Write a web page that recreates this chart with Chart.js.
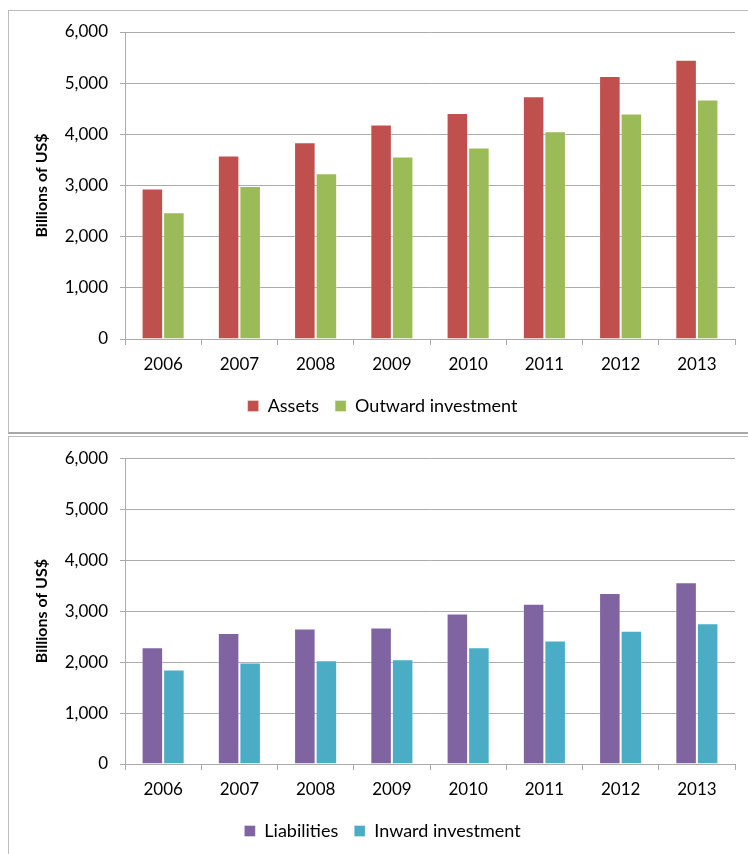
<!DOCTYPE html>
<html>
<head>
<meta charset="utf-8">
<script src="https://cdn.jsdelivr.net/npm/chart.js@4/dist/chart.umd.min.js"></script>
<style>
    html, body { margin: 0; padding: 0; background: #fff; }
    body { width: 748px; height: 854px; position: relative; overflow: hidden; }
    .frame { position: absolute; left: 8px; width: 760px; border: 1px solid #bcbcbc; box-sizing: border-box; }
    #frameTop { top: 10px; height: 424px; border-bottom: 2px solid #a8a8a8; }
    #frameBottom { top: 436px; height: 440px; }
    canvas { position: absolute; left: 0; }
    #topChart { top: 0; }
    #bottomChart { top: 436px; }
</style>
</head>
<body>
<div class="frame" id="frameTop"></div>
<div class="frame" id="frameBottom"></div>
<canvas id="topChart" width="748" height="433"></canvas>
<canvas id="bottomChart" width="748" height="418"></canvas>
<script>
    'use strict';

    // --- data ---
    const years = ['2006', '2007', '2008', '2009', '2010', '2011', '2012', '2013'];
    const assets = [2940, 3585, 3845, 4190, 4415, 4745, 5140, 5460];
    const outward = [2475, 2990, 3240, 3565, 3745, 4060, 4405, 4680];
    const liabilities = [2290, 2570, 2660, 2680, 2955, 3145, 3355, 3565];
    const inward = [1855, 1990, 2035, 2055, 2290, 2425, 2615, 2760];
    const yTicks = [0, 1000, 2000, 3000, 4000, 5000, 6000];
    const yTitle = 'Billions of US$';

    const FONT = 'Lato, "Open Sans", sans-serif';
    const GRID = '#ababab';

    function barSet(label, data, color) {
        return {
            label: label,
            data: data,
            backgroundColor: color,
            borderColor: 'rgba(255,255,255,0.35)',
            borderWidth: 1,
            categoryPercentage: 0.565,
            barPercentage: 1
        };
    }

    // left padding 30 + y-axis width 95 puts the plot edge at x = 125
    function options(padTop, padBottom) {
        return {
            responsive: false,
            animation: false,
            layout: { padding: { top: padTop, right: 13, bottom: padBottom, left: 30 } },
            plugins: {
                tooltip: { enabled: false },
                legend: {
                    position: 'bottom',
                    labels: {
                        color: '#000',
                        font: { family: FONT, size: 18 },
                        boxWidth: 11,
                        boxHeight: 11,
                        padding: 16
                    }
                }
            },
            scales: {
                x: {
                    grid: { display: true, drawOnChartArea: false, drawTicks: true, tickLength: 6, color: GRID, offset: true },
                    border: { display: true, color: GRID, width: 1 },
                    ticks: { color: '#000', font: { family: FONT, size: 17 }, padding: 9, maxRotation: 0 },
                    afterFit: function (s) { s.height = 42; }
                },
                y: {
                    min: 0,
                    max: 6000,
                    afterBuildTicks: function (s) { s.ticks = yTicks.map(function (v) { return { value: v }; }); },
                    grid: { color: GRID, lineWidth: 1, tickLength: 5, drawTicks: true },
                    border: { display: true, color: GRID, width: 1 },
                    ticks: {
                        color: '#000',
                        font: { family: FONT, size: 17 },
                        padding: 12,
                        callback: function (v) { return v.toLocaleString('en-US'); }
                    },
                    title: {
                        display: true,
                        text: yTitle,
                        color: '#000',
                        font: { family: FONT, size: 16, weight: 'bold' },
                        padding: { top: 2, bottom: 0 }
                    },
                    afterFit: function (s) { s.width = 95; }
                }
            }
        };
    }

    new Chart(document.getElementById('topChart'), {
        type: 'bar',
        data: {
            labels: years,
            datasets: [
                barSet('Assets', assets, '#C0504D'),
                barSet('Outward investment', outward, '#9BBB59')
            ]
        },
        options: options(32, 8)
    });

    new Chart(document.getElementById('bottomChart'), {
        type: 'bar',
        data: {
            labels: years,
            datasets: [
                barSet('Liabilities', liabilities, '#8064A2'),
                barSet('Inward investment', inward, '#4BACC6')
            ]
        },
        options: options(21, 4)
    });
</script>
</body>
</html>
